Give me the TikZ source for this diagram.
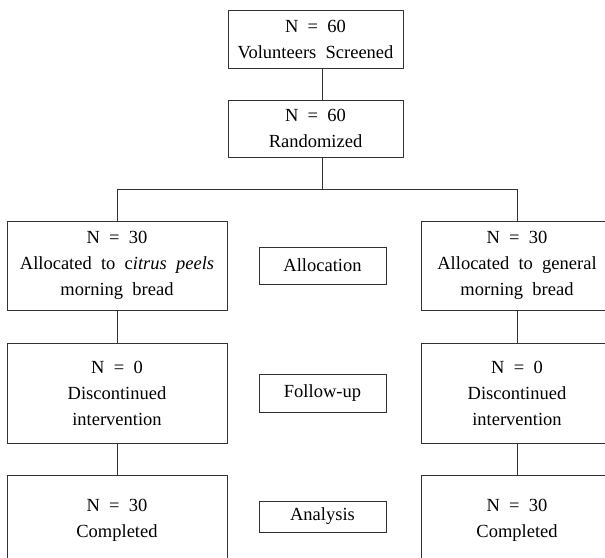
\documentclass[tikz,border=0pt]{standalone}
\usepackage{fontspec}
\setmainfont{Liberation Serif}
\begin{document}
\begin{tikzpicture}[x=1pt,y=-1pt,
  box/.style={draw=black!80, line width=0.9pt, align=center, inner sep=0pt,
    font=\fontsize{18.5}{26}\selectfont, text=black},
  txt/.style={align=center, inner sep=0pt, font=\fontsize{18.5}{26}\selectfont, text=black},
  conn/.style={draw=black!80, line width=0.9pt}]
\useasboundingbox (0,0) rectangle (605,557);
\clip (0,0) rectangle (605,557);
\node[box, minimum width=175pt, minimum height=58pt] (scr) at (315.5,39) {N\ \ =\ \ 60\\Volunteers\ \ Screened};
\node[box, minimum width=175pt, minimum height=57pt] (rnd) at (315.5,128.5) {N\ \ =\ \ 60\\Randomized};
\node[box, minimum width=220pt, minimum height=89pt] (L1) at (117,265.5) {N\ \ =\ \ 30\\Allocated\ \ to\ \ c\textit{itrus\ \ peels}\\morning\ \ bread};
\node[box, minimum width=192pt, minimum height=89pt] (R1) at (517,265.5) {N\ \ =\ \ 30\\Allocated\ \ to\ \ general\\morning\ \ bread};
\node[box, minimum width=220pt, minimum height=100pt] (L2) at (117,393) {N\ \ =\ \ 0\\Discontinued\\intervention};
\node[box, minimum width=192pt, minimum height=100pt] (R2) at (517,393) {N\ \ =\ \ 0\\Discontinued\\intervention};
\node[box, minimum width=220pt, minimum height=100pt] (L3) at (117,525) {};
\node[txt] (L3t) at (117,520) {N\ \ =\ \ 30\\Completed};
\node[box, minimum width=192pt, minimum height=100pt] (R3) at (517,525) {};
\node[txt] (R3t) at (517,520) {N\ \ =\ \ 30\\Completed};
\node[box, minimum width=127pt, minimum height=37pt] (alloc) at (322.5,265.5) {Allocation};
\node[box, minimum width=127pt, minimum height=38pt] (fol) at (322.5,393) {Follow-up};
\node[box, minimum width=127pt, minimum height=31pt] (ana) at (322.5,516.5) {Analysis};
\coordinate (split) at (322,189.5);
\draw[conn] (scr.south -| split) -- (rnd.north -| split);
\draw[conn] (rnd.south -| split) -- (split);
\draw[conn] (L1.north) |- (split) -| (R1.north);
\draw[conn] (L1.south) -- (L2.north);
\draw[conn] (L2.south) -- (L3.north);
\draw[conn] (R1.south) -- (R2.north);
\draw[conn] (R2.south) -- (R3.north);
\end{tikzpicture}
\end{document}
